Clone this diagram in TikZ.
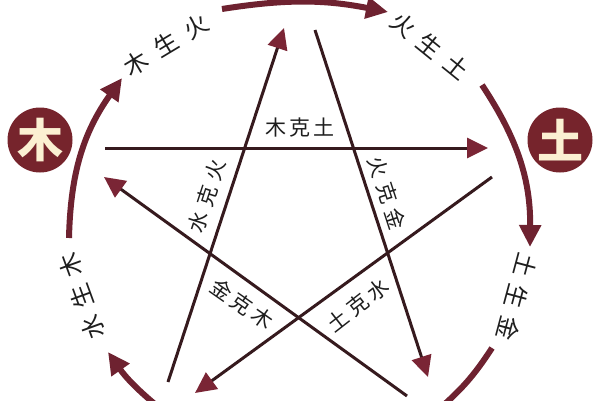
\documentclass[tikz,border=0pt]{standalone}
\usepackage{fontspec}
\newfontfamily\cjk{Noto Sans CJK SC}
\usetikzlibrary{arrows.meta}
\definecolor{colMaroon}{HTML}{6E2230}
\definecolor{colCircle}{HTML}{76242C}
\definecolor{colLine}{HTML}{361A1E}
\definecolor{colTip}{HTML}{7A2535}
\definecolor{colCream}{HTML}{FBF0D2}
\definecolor{colText}{HTML}{1E1E1E}
\newcommand\tri[4]{#2\hspace{#1}#3\hspace{#1}#4}
\begin{document}
\begin{tikzpicture}[x=1pt,y=1pt,
  element/.style={circle, fill=colCircle, minimum size=65pt, inner sep=0pt,
    text=colCream, font=\cjk\bfseries\fontsize{46}{46}\selectfont},
  keline/.style={draw=colLine, line width=3pt,
    -{Triangle[length=21pt,width=20pt,color=colTip]}},
  shengarc/.style={draw=colMaroon, line width=6pt,
    -{Triangle[length=22pt,width=21pt]}},
  shengplain/.style={draw=colMaroon, line width=6pt},
  outerlbl/.style={text=colText, inner sep=0pt, font=\cjk\fontsize{24}{24}\selectfont},
  starlbl/.style={text=colText, inner sep=0pt, font=\cjk\fontsize{21}{21}\selectfont}]
\useasboundingbox (0,0) rectangle (600,400);
\clip (0,0) rectangle (600,400);
\fill[white] (0,0) rectangle (600,400);

% element nodes
\node[element] (mu) at (40,260) {木};
\node[element] (tu) at (560,260) {土};

% star line end points
\coordinate (k1a) at (105,252); \coordinate (k1b) at (488,252);
\coordinate (k2a) at (315,370); \coordinate (k2b) at (428,23);
\coordinate (k3a) at (168,18);  \coordinate (k3b) at (284,372);
\coordinate (k4a) at (407,4);   \coordinate (k4b) at (104,223);
\coordinate (k5a) at (492,223); \coordinate (k5b) at (195,7);

\draw[keline] (k1a) -- (k1b);
\draw[keline] (k2a) -- (k2b);
\draw[keline] (k3a) -- (k3b);
\draw[keline] (k4a) -- (k4b);
\draw[keline] (k5a) -- (k5b);

% outer arc end points
\coordinate (oLa) at (69,162);  \coordinate (oLb) at (122,322);
\coordinate (oTa) at (222,391); \coordinate (oTb) at (388,388);
\coordinate (oRa) at (482,315); \coordinate (oRb) at (530,153);
\coordinate (oBLa) at (162,-10); \coordinate (oBLb) at (108,48);
\coordinate (oBRa) at (492,52); \coordinate (oBRb) at (438,-10);

\draw[shengarc] (oLa) to[bend left=17] (oLb);
\draw[shengarc] (oTa) to[bend left=10] (oTb);
\draw[shengarc] (oRa) to[bend left=17] (oRb);
\draw[shengarc] (oBLa) to[bend left=8] (oBLb);
\draw[shengplain] (oBRa) to[bend left=8] (oBRb);

% outer labels
\node[outerlbl, rotate=31]   (l1) at (166,355) {\tri{11pt}{木}{生}{火}};
\node[outerlbl, rotate=-39]  (l2) at (430,354) {\tri{10pt}{火}{生}{土}};
\node[outerlbl, rotate=-105] (l3) at (517,103) {\tri{9pt}{土}{生}{金}};
\node[outerlbl, rotate=110]  (l4) at (82,104)  {\tri{9pt}{水}{生}{木}};

% star labels
\node[starlbl]              (s1) at (300,272) {\tri{3pt}{木}{克}{土}};
\node[starlbl, rotate=72]   (s2) at (207,204) {\tri{6pt}{水}{克}{火}};
\node[starlbl, rotate=-72]  (s3) at (387,207) {\tri{6pt}{火}{克}{金}};
\node[starlbl, rotate=-35]  (s4) at (242,96)  {\tri{4pt}{金}{克}{木}};
\node[starlbl, rotate=38]   (s5) at (358,95)  {\tri{4pt}{土}{克}{水}};
\end{tikzpicture}
\end{document}
